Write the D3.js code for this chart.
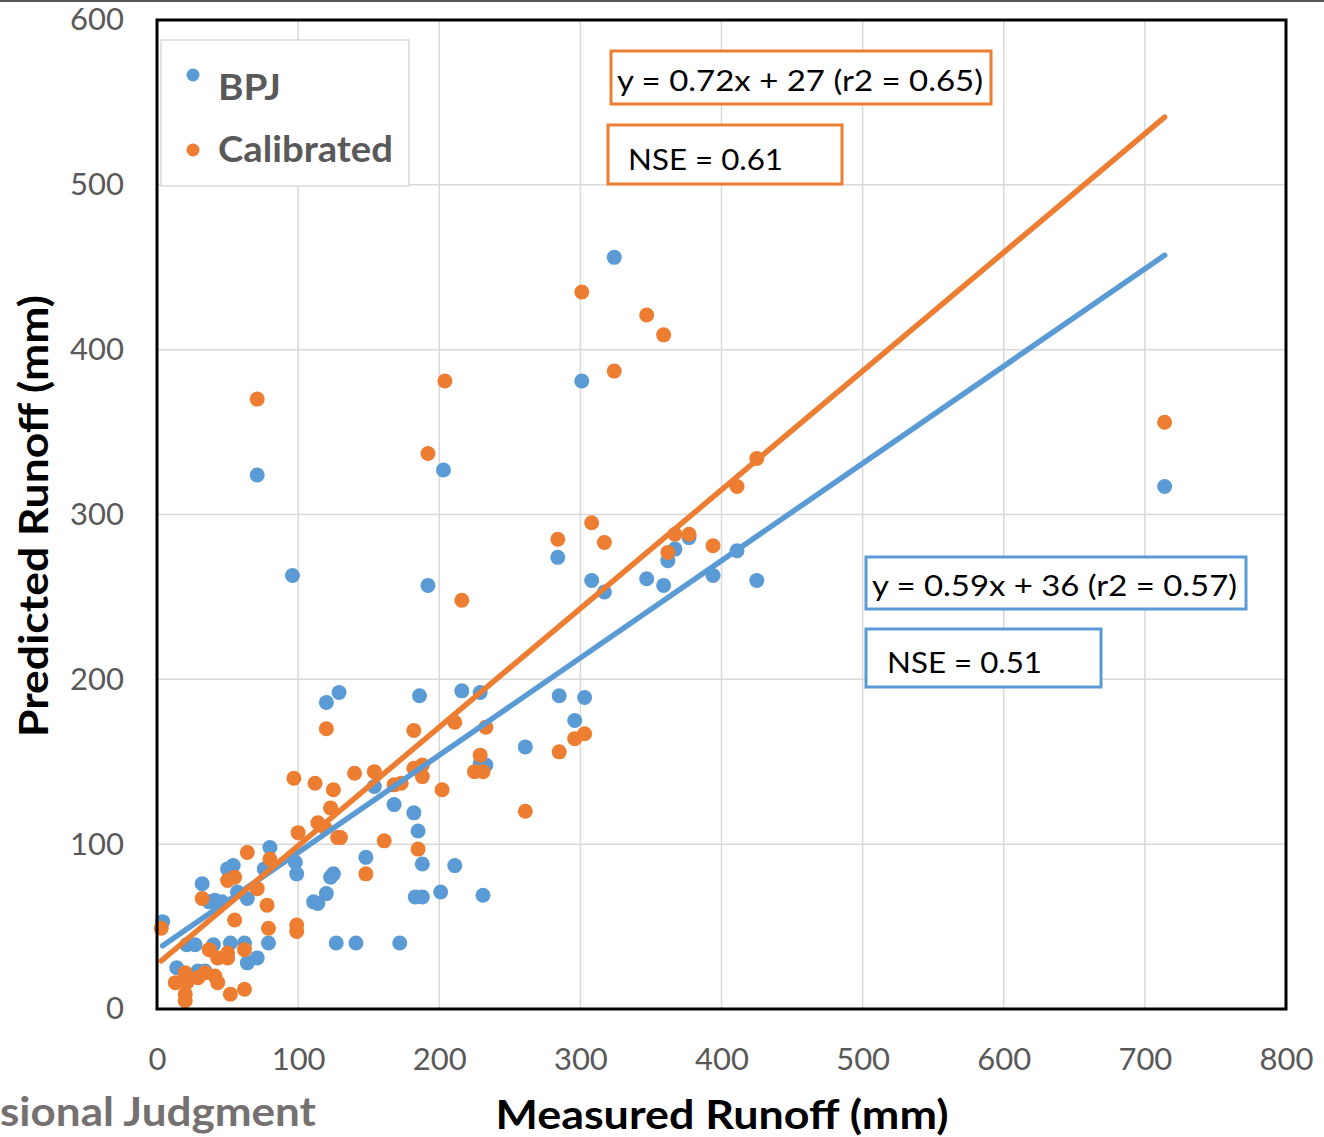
<!DOCTYPE html>
<html>
<head>
<meta charset="utf-8">
<script src="https://cdn.jsdelivr.net/npm/d3@7"></script>
<style>
  body { margin: 0; background: #fff; }
  svg { display: block; }
</style>
</head>
<body>
<div id="chart"></div>
<script>
const width = 1324;
const height = 1137;

// measured vs predicted runoff (mm)
const bpjMeasured = [4, 14, 21, 27, 29, 34, 32, 37, 41, 46, 40, 52, 62, 50, 54, 57, 64, 64, 71, 71,
  76, 79, 80, 98, 99, 96, 111, 114, 120, 123, 125, 120, 129, 127, 141, 148, 154, 168, 172, 182,
  185, 188, 183, 188, 186, 192, 201, 203, 211, 216, 229, 229, 233, 231, 261, 284, 285, 296, 303, 301,
  308, 317, 324, 347, 359, 362, 367, 377, 394, 411, 425, 714];
const bpjPredicted = [53, 25, 39, 39, 23, 23, 76, 65, 66, 65, 39, 40, 40, 85, 87, 71, 67, 28, 31, 324,
  85, 40, 98, 89, 82, 263, 65, 64, 70, 80, 82, 186, 192, 40, 40, 92, 135, 124, 40, 119,
  108, 88, 68, 68, 190, 257, 71, 327, 87, 193, 192, 149, 148, 69, 159, 274, 190, 175, 189, 381,
  260, 253, 456, 261, 257, 272, 279, 286, 263, 278, 260, 317];

const calMeasured = [3, 13, 20, 21, 20, 20, 29, 34, 41, 43, 32, 37, 43, 50, 50, 62, 52, 62, 50, 55,
  55, 64, 71, 71, 78, 79, 80, 100, 99, 99, 97, 112, 120, 125, 123, 114, 119, 128, 130, 140,
  148, 154, 161, 168, 173, 182, 182, 188, 188, 185, 192, 202, 204, 211, 216, 229, 225, 231, 233, 261,
  284, 285, 296, 303, 301, 308, 317, 324, 347, 359, 362, 367, 377, 394, 411, 425, 714];
const calPredicted = [49, 16, 22, 16, 9, 5, 19, 22, 20, 16, 67, 36, 31, 34, 31, 36, 9, 12, 78, 80,
  54, 95, 73, 370, 63, 49, 91, 107, 51, 47, 140, 137, 170, 133, 122, 113, 110, 104, 104, 143,
  82, 144, 102, 136, 137, 169, 146, 148, 141, 97, 337, 133, 381, 174, 248, 154, 144, 144, 171, 120,
  285, 156, 164, 167, 435, 295, 283, 387, 421, 409, 277, 288, 288, 281, 317, 334, 356];

// trendline coefficients [slope, intercept]
const bpjTrend = [0.59, 36];
const calTrend = [0.72, 27];

const xTicks = [0, 100, 200, 300, 400, 500, 600, 700, 800];
const yTicks = [0, 100, 200, 300, 400, 500, 600];

const blue = '#5b9bd5';
const orange = '#ed7d31';
const tickColor = '#595959';
const font = 'Lato, "Open Sans", sans-serif';

const svg = d3.select('#chart').append('svg')
  .attr('width', width)
  .attr('height', height)
  .style('font-family', font);

svg.append('rect').attr('width', width).attr('height', height).attr('fill', '#fff');

// strip left over at the top edge
svg.append('rect').attr('x', 0).attr('y', 0).attr('width', width).attr('height', 2).attr('fill', '#555');

const x = d3.scaleLinear().domain([0, 800]).range([157, 1286]);
const y = d3.scaleLinear().domain([0, 600]).range([1009, 20]);

// gridlines
svg.append('g')
  .selectAll('line')
  .data(xTicks.slice(1, -1))
  .join('line')
  .attr('x1', d => x(d)).attr('x2', d => x(d))
  .attr('y1', y(600)).attr('y2', y(0))
  .attr('stroke', '#d9d9d9').attr('stroke-width', 1.5);

svg.append('g')
  .selectAll('line')
  .data(yTicks.slice(1, -1))
  .join('line')
  .attr('x1', x(0)).attr('x2', x(800))
  .attr('y1', d => y(d)).attr('y2', d => y(d))
  .attr('stroke', '#d9d9d9').attr('stroke-width', 1.5);

// axes (labels only)
const xAxis = svg.append('g')
  .attr('transform', `translate(0,${y(0)})`)
  .call(d3.axisBottom(x).tickValues(xTicks).tickSize(0).tickPadding(39));
const yAxis = svg.append('g')
  .attr('transform', `translate(${x(0)},0)`)
  .call(d3.axisLeft(y).tickValues(yTicks).tickSize(0).tickPadding(33));
[xAxis, yAxis].forEach(a => {
  a.select('.domain').remove();
  a.selectAll('text')
    .attr('fill', tickColor)
    .style('font-family', font)
    .style('font-size', '31px');
});

// points
svg.append('g')
  .selectAll('circle')
  .data(d3.zip(bpjMeasured, bpjPredicted))
  .join('circle')
  .attr('cx', d => x(d[0]))
  .attr('cy', d => y(d[1]))
  .attr('r', 7.5)
  .attr('fill', blue);

svg.append('g')
  .selectAll('circle')
  .data(d3.zip(calMeasured, calPredicted))
  .join('circle')
  .attr('cx', d => x(d[0]))
  .attr('cy', d => y(d[1]))
  .attr('r', 7.5)
  .attr('fill', orange);

// trendlines over the range of measured values
function trend(xs, coef, color) {
  const [lo, hi] = d3.extent(xs);
  svg.append('line')
    .attr('x1', x(lo)).attr('y1', y(coef[0] * lo + coef[1]))
    .attr('x2', x(hi)).attr('y2', y(coef[0] * hi + coef[1]))
    .attr('stroke', color)
    .attr('stroke-width', 5.5)
    .attr('stroke-linecap', 'round');
}
trend(bpjMeasured, bpjTrend, blue);
trend(calMeasured, calTrend, orange);

// plot border
svg.append('rect')
  .attr('x', x(0)).attr('y', y(600))
  .attr('width', x(800) - x(0)).attr('height', y(0) - y(600))
  .attr('fill', 'none')
  .attr('stroke', '#000')
  .attr('stroke-width', 3);

// legend
const legend = svg.append('g');
legend.append('rect')
  .attr('x', 161).attr('y', 40).attr('width', 248).attr('height', 146)
  .attr('fill', '#fff').attr('stroke', '#d9d9d9').attr('stroke-width', 1.5);
const legendItems = [['BPJ', blue, 75, 100, 63], ['Calibrated', orange, 150, 162, 175]];
legendItems.forEach(([name, color, cy, base, w]) => {
  legend.append('circle').attr('cx', 193).attr('cy', cy).attr('r', 6.5).attr('fill', color);
  legend.append('text')
    .attr('x', 218).attr('y', base)
    .attr('fill', tickColor)
    .style('font-size', '37px').style('font-weight', 'bold')
    .attr('textLength', w).attr('lengthAdjust', 'spacingAndGlyphs')
    .text(name);
});

// annotation boxes
function note(bx, by, bw, bh, tx, ty, tw, color, str) {
  svg.append('rect')
    .attr('x', bx).attr('y', by).attr('width', bw).attr('height', bh)
    .attr('fill', '#fff').attr('stroke', color).attr('stroke-width', 3);
  svg.append('text')
    .attr('x', tx).attr('y', ty)
    .attr('fill', '#000')
    .style('font-size', '29px')
    .attr('textLength', tw).attr('lengthAdjust', 'spacingAndGlyphs')
    .text(str);
}
note(611, 51, 380, 53, 617, 91, 366, orange, 'y = 0.72x + 27 (r2 = 0.65)');
note(608, 125, 234, 59, 628, 170, 155, orange, 'NSE = 0.61');
note(866, 557, 380, 52, 872, 596, 365, blue, 'y = 0.59x + 36 (r2 = 0.57)');
note(866, 629, 235, 58, 887, 673, 155, blue, 'NSE = 0.51');

// axis titles
svg.append('text')
  .attr('x', 722).attr('y', 1129)
  .attr('text-anchor', 'middle')
  .attr('fill', '#000')
  .style('font-size', '40px').style('font-weight', 'bold')
  .attr('textLength', 453).attr('lengthAdjust', 'spacingAndGlyphs')
  .text('Measured Runoff (mm)');

svg.append('text')
  .attr('transform', 'translate(48,516) rotate(-90)')
  .attr('text-anchor', 'middle')
  .attr('fill', '#000')
  .style('font-size', '40px').style('font-weight', 'bold')
  .attr('textLength', 442).attr('lengthAdjust', 'spacingAndGlyphs')
  .text('Predicted Runoff (mm)');

// visible tail of the neighbouring panel's title
svg.append('text')
  .attr('x', 0).attr('y', 1126)
  .attr('fill', '#767171')
  .style('font-size', '40px').style('font-weight', 'bold')
  .attr('textLength', 316).attr('lengthAdjust', 'spacingAndGlyphs')
  .text('sional Judgment');
</script>
</body>
</html>
